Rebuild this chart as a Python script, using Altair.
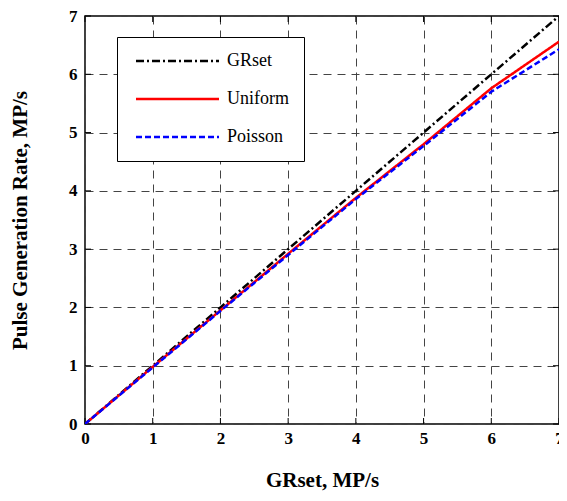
import altair as alt
import pandas as pd

gr_set = [0, 1, 2, 3, 4, 5, 6, 7]
grset_rate = [0, 1, 2, 3, 4, 5, 6, 7]
uniform_rate = [0, 0.98, 1.95, 2.92, 3.88, 4.80, 5.76, 6.56]
poisson_rate = [0, 0.97, 1.94, 2.90, 3.86, 4.77, 5.70, 6.43]
series_names = ["GRset", "Uniform", "Poisson"]
tick_values = [0, 1, 2, 3, 4, 5, 6, 7]

rows = []
for k, (name, vals) in enumerate(zip(series_names, [grset_rate, uniform_rate, poisson_rate])):
    for xv, yv in zip(gr_set, vals):
        rows.append({"x": xv, "y": yv, "series": name, "k": k})
df = pd.DataFrame(rows)
ticks_df = pd.DataFrame({"v": tick_values})

W, H = 474, 408
FONT = "Liberation Serif"

xscale = alt.Scale(domain=[0, 7], nice=False)
yscale = alt.Scale(domain=[0, 7], nice=False)

lines = alt.Chart(df).mark_line(strokeWidth=2.5, clip=True).encode(
    x=alt.X("x:Q", scale=xscale,
            axis=alt.Axis(values=tick_values, title="GRset, MP/s", format="d")),
    y=alt.Y("y:Q", scale=yscale,
            axis=alt.Axis(values=tick_values, title="Pulse Generation Rate, MP/s", format="d")),
    color=alt.Color("series:N", sort=series_names,
                    scale=alt.Scale(domain=series_names, range=["black", "red", "blue"]),
                    legend=alt.Legend(title=None)),
    strokeDash=alt.StrokeDash("series:N", sort=series_names,
                              scale=alt.Scale(domain=series_names,
                                              range=[[8, 3, 2, 3], [1, 0], [6, 3]]),
                              legend=alt.Legend(title=None)),
    order=alt.Order("k:Q"),
)

tlen = 6
left_ticks = alt.Chart(ticks_df).mark_rule(color="black", strokeWidth=1).encode(
    y=alt.Y("v:Q", scale=yscale), x=alt.value(0), x2=alt.value(tlen))
right_ticks = alt.Chart(ticks_df).mark_rule(color="black", strokeWidth=1).encode(
    y=alt.Y("v:Q", scale=yscale), x=alt.value(W - tlen), x2=alt.value(W))
bottom_ticks = alt.Chart(ticks_df).mark_rule(color="black", strokeWidth=1).encode(
    x=alt.X("v:Q", scale=xscale), y=alt.value(H), y2=alt.value(H - tlen))
top_ticks = alt.Chart(ticks_df).mark_rule(color="black", strokeWidth=1).encode(
    x=alt.X("v:Q", scale=xscale), y=alt.value(0), y2=alt.value(tlen))

chart = alt.layer(left_ticks, right_ticks, bottom_ticks, top_ticks, lines).resolve_scale(
    x="shared", y="shared"
).properties(
    width=W, height=H,
    autosize=alt.AutoSizeParams(type="none"),
    padding={"left": 77, "top": 8, "right": 0, "bottom": 69},
    background="white",
).configure_view(
    stroke="black", strokeWidth=1.5
).configure_axis(
    labelFont=FONT, labelFontSize=17, labelFontWeight="bold", labelColor="black",
    titleFont=FONT, titleFontSize=21, titleFontWeight="bold", titleColor="black",
    grid=True, gridDash=[8, 6], gridColor="#444444", gridWidth=1, gridOpacity=1,
    ticks=False, domain=False, labelOverlap=False, labelFlush=False, labelBound=False,
).configure_axisX(
    labelPadding=6, titlePadding=23,
).configure_axisY(
    labelPadding=8, titlePadding=38,
).configure_legend(
    orient="none", legendX=32, legendY=21,
    strokeColor="black", fillColor="white", padding=15,
    symbolType="M-1,0H15.6", symbolSize=100, symbolStrokeWidth=2.5,
    labelFont=FONT, labelFontSize=18, labelColor="black", labelOffset=77,
    rowPadding=20, cornerRadius=0,
)

chart.save("out.html", embed_options={"renderer": "svg", "actions": False})
